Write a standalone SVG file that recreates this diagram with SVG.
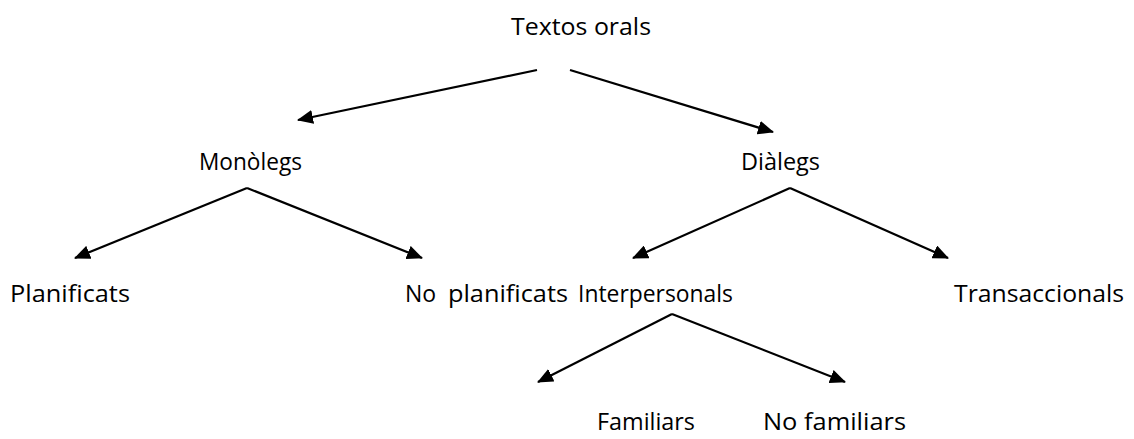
<svg xmlns="http://www.w3.org/2000/svg" width="1134" height="439" viewBox="0 0 1134 439">
  <defs>
    <style>
      .label { font-family: "Open Sans", "Liberation Sans", sans-serif; font-size: 23px; fill: #000; }
      .edge { stroke: #000; stroke-width: 2.2; fill: none; marker-end: url(#arrow); }
    </style>
    <marker id="arrow" markerUnits="userSpaceOnUse" markerWidth="16" markerHeight="14" refX="15" refY="7" orient="auto">
      <path d="M0,0 L16,7 L0,14 Z" fill="#000"/>
    </marker>
  </defs>
  <rect width="1134" height="439" fill="#fff"/>

  <!-- tree edges -->
  <g id="connectors">
    <line class="edge" x1="537" y1="70" x2="298" y2="120"/>
    <line class="edge" x1="570" y1="70" x2="773" y2="132"/>
    <line class="edge" x1="247" y1="188" x2="75" y2="258"/>
    <line class="edge" x1="247" y1="188" x2="422" y2="258"/>
    <line class="edge" x1="790" y1="188" x2="633" y2="258"/>
    <line class="edge" x1="790" y1="188" x2="948" y2="258"/>
    <line class="edge" x1="672" y1="314" x2="538" y2="382"/>
    <line class="edge" x1="672" y1="314" x2="845" y2="382"/>
  </g>

  <!-- tree labels -->
  <g id="node-textos-orals"><text class="label" x="511" y="35" textLength="140" lengthAdjust="spacingAndGlyphs">Textos orals</text></g>
  <g id="node-monolegs"><text class="label" x="199" y="170" textLength="103" lengthAdjust="spacingAndGlyphs">Monòlegs</text></g>
  <g id="node-dialegs"><text class="label" x="741" y="170" textLength="79" lengthAdjust="spacingAndGlyphs">Diàlegs</text></g>
  <g id="node-planificats"><text class="label" x="10" y="302" textLength="120" lengthAdjust="spacingAndGlyphs">Planificats</text></g>
  <g id="node-no-planificats">
    <text class="label" x="405" y="302">No</text>
    <text class="label" x="448" y="302" textLength="120" lengthAdjust="spacingAndGlyphs">planificats</text>
  </g>
  <g id="node-interpersonals"><text class="label" x="578" y="302" textLength="155" lengthAdjust="spacingAndGlyphs">Interpersonals</text></g>
  <g id="node-transaccionals"><text class="label" x="954" y="302" textLength="170" lengthAdjust="spacingAndGlyphs">Transaccionals</text></g>
  <g id="node-familiars"><text class="label" x="597" y="430" textLength="98" lengthAdjust="spacingAndGlyphs">Familiars</text></g>
  <g id="node-no-familiars"><text class="label" x="763" y="430" textLength="143" lengthAdjust="spacingAndGlyphs">No familiars</text></g>
</svg>
